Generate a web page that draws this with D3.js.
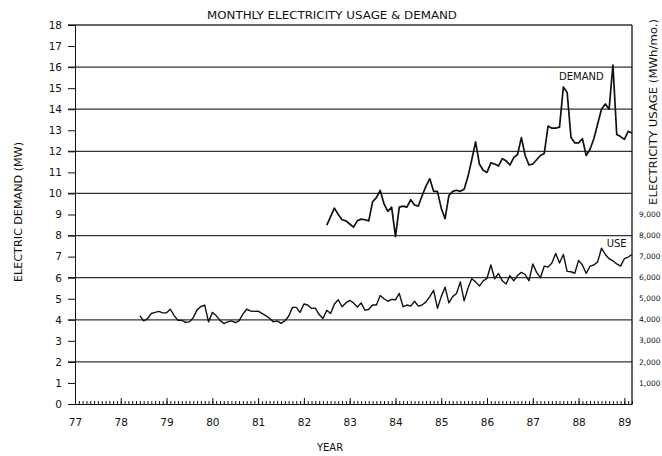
<!DOCTYPE html>
<html>
<head>
<meta charset="utf-8">
<script src="https://cdn.jsdelivr.net/npm/d3@7"></script>
<style>
  body { margin: 0; background: #fff; }
  svg { display: block; font-family: "DejaVu Sans", "Liberation Sans", sans-serif; }
  .axis path, .axis line { stroke: #111; }
  .axis text { fill: #111; font-size: 10.5px; font-family: "DejaVu Sans", sans-serif; }
</style>
</head>
<body>
<div class="chart"></div>
<script>
// monthly peak demand (MW), starting July 1982
var demandStart = 82.5;
var demand = [8.5, 8.9, 9.3, 9.0, 8.75, 8.7, 8.55, 8.4, 8.7, 8.78, 8.75, 8.7,
  9.6, 9.8, 10.15, 9.5, 9.15, 9.35, 7.95, 9.35, 9.4, 9.35, 9.7, 9.45,
  9.4, 9.9, 10.35, 10.7, 10.1, 10.1, 9.3, 8.8, 9.9, 10.1, 10.15, 10.1,
  10.2, 10.8, 11.6, 12.45, 11.4, 11.1, 11.0, 11.45, 11.4, 11.3, 11.65, 11.55,
  11.35, 11.7, 11.85, 12.65, 11.8, 11.35, 11.4, 11.6, 11.8, 11.9, 13.2, 13.1,
  13.1, 13.15, 15.05, 14.8, 12.67, 12.4, 12.4, 12.6, 11.8, 12.1, 12.6, 13.3,
  14.0, 14.25, 14.0, 16.1, 12.8, 12.7, 12.57, 12.95, 12.86];

// monthly electricity usage (MWh/mo.), starting June 1978
var usageStart = 78 + 5 / 12;
var usage = [4200, 3950, 4050, 4300, 4350, 4400, 4330, 4330, 4500, 4200, 3970, 3970,
  3880, 3900, 4100, 4470, 4630, 4700, 3900, 4350, 4200, 3970, 3820, 3900,
  3950, 3860, 3950, 4270, 4500, 4420, 4400, 4410, 4300, 4200, 4070, 3900,
  3950, 3830, 3950, 4170, 4590, 4590, 4350, 4750, 4700, 4540, 4550, 4250,
  4060, 4450, 4300, 4750, 4950, 4620, 4800, 4920, 4800, 4600, 4800, 4450,
  4500, 4700, 4700, 5150, 5000, 4880, 4970, 4950, 5250, 4620, 4700, 4650,
  4880, 4650, 4700, 4850, 5100, 5400, 4550, 5100, 5550, 4800, 5100, 5250,
  5800, 4900, 5500, 5950, 5800, 5600, 5850, 5970, 6600, 5950, 6200, 5850,
  5700, 6100, 5850, 6100, 6250, 6150, 5850, 6650, 6250, 6000, 6550, 6500,
  6700, 7150, 6700, 7100, 6300, 6280, 6210, 6820, 6600, 6200, 6550, 6600,
  6750, 7400, 7100, 6900, 6800, 6650, 6550, 6900, 6980, 7100];

var years = [77, 78, 79, 80, 81, 82, 83, 84, 85, 86, 87, 88, 89];
var demandTicks = d3.range(0, 19);
var gridValues = [2, 4, 6, 8, 10, 12, 14, 16, 18];
var usageTicks = [1000, 2000, 3000, 4000, 5000, 6000, 7000, 8000, 9000];

var margin = {top: 25, right: 30, bottom: 52, left: 75},
    W = 662, H = 456,
    width = W - margin.left - margin.right,
    height = H - margin.top - margin.bottom;

var svg = d3.select('div.chart').append('svg')
  .attr('width', W).attr('height', H);

var x = d3.scaleLinear().domain([77, 89 + 2 / 12]).range([margin.left, margin.left + width]);
var yL = d3.scaleLinear().domain([0, 18]).range([margin.top + height, margin.top]);
var yR = d3.scaleLinear().domain([0, 18000]).range([margin.top + height, margin.top]);

// gridlines at even MW values
svg.append('g').selectAll('line.grid').data(gridValues).enter().append('line')
  .attr('x1', margin.left - 7).attr('x2', margin.left + width)
  .attr('y1', function(d) { return yL(d); }).attr('y2', function(d) { return yL(d); })
  .attr('stroke', '#333').attr('stroke-width', 1.3);

// left axis
svg.append('g').attr('class', 'axis')
  .attr('transform', 'translate(' + margin.left + ',0)')
  .call(d3.axisLeft(yL).tickValues(demandTicks).tickSize(7).tickSizeOuter(0).tickPadding(6));

// right axis line + labels, squeezed in against the page edge
svg.append('line')
  .attr('x1', margin.left + width).attr('x2', margin.left + width)
  .attr('y1', margin.top).attr('y2', margin.top + height)
  .attr('stroke', '#111').attr('stroke-width', 1.3);
svg.append('g').selectAll('text').data(usageTicks).enter().append('text')
  .attr('x', margin.left + width + 7)
  .attr('y', function(d) { return yR(d); })
  .attr('dy', '0.35em')
  .attr('font-size', 7.5).attr('fill', '#111')
  .text(d3.format(','));

// bottom axis: yearly ticks + monthly minor ticks
var months = d3.range(0, 12 * 12 + 3).map(function(i) { return 77 + i / 12; });
svg.append('g').attr('class', 'axis')
  .attr('transform', 'translate(0,' + (margin.top + height) + ')')
  .call(d3.axisBottom(x).tickValues(months).tickSize(-3).tickSizeOuter(0).tickFormat(''));
svg.append('g').attr('class', 'axis')
  .attr('transform', 'translate(0,' + (margin.top + height) + ')')
  .call(d3.axisBottom(x).tickValues(years).tickSize(-6).tickSizeOuter(0).tickPadding(15).tickFormat(d3.format('d')))
  .call(function(g) { g.select('.domain').remove(); });

// lines
var demandLine = d3.line()
  .x(function(d, i) { return x(demandStart + i / 12); })
  .y(function(d) { return yL(d); });
var usageLine = d3.line()
  .x(function(d, i) { return x(usageStart + i / 12); })
  .y(function(d) { return yR(d); });

svg.append('path').datum(demand).attr('d', demandLine)
  .attr('fill', 'none').attr('stroke', '#111').attr('stroke-width', 1.7).attr('stroke-linejoin', 'round');
svg.append('path').datum(usage).attr('d', usageLine)
  .attr('fill', 'none').attr('stroke', '#111').attr('stroke-width', 1.4).attr('stroke-linejoin', 'round');

// series labels
svg.append('text').attr('x', x(88.55)).attr('y', yL(15.4))
  .attr('text-anchor', 'end').attr('font-size', 10).attr('fill', '#111').text('DEMAND');
svg.append('text').attr('x', x(89.05)).attr('y', yR(7450))
  .attr('text-anchor', 'end').attr('font-size', 10).attr('fill', '#111').text('USE');

// titles
svg.append('text').attr('x', 332).attr('y', 19)
  .attr('text-anchor', 'middle').attr('font-size', 10)
  .attr('textLength', 250).attr('lengthAdjust', 'spacingAndGlyphs')
  .attr('fill', '#111').text('MONTHLY ELECTRICITY USAGE & DEMAND');
svg.append('text').attr('x', 330).attr('y', 451)
  .attr('text-anchor', 'middle').attr('font-size', 10).attr('fill', '#111').text('YEAR');
svg.append('text').attr('transform', 'translate(22,212) rotate(-90)')
  .attr('text-anchor', 'middle').attr('font-size', 10)
  .attr('textLength', 140).attr('lengthAdjust', 'spacingAndGlyphs')
  .attr('fill', '#111').text('ELECTRIC DEMAND (MW)');
svg.append('text').attr('transform', 'translate(657,112) rotate(-90)')
  .attr('text-anchor', 'middle').attr('font-size', 10)
  .attr('textLength', 186).attr('lengthAdjust', 'spacingAndGlyphs')
  .attr('fill', '#111').text('ELECTRICITY USAGE (MWh/mo.)');
</script>
</body>
</html>
